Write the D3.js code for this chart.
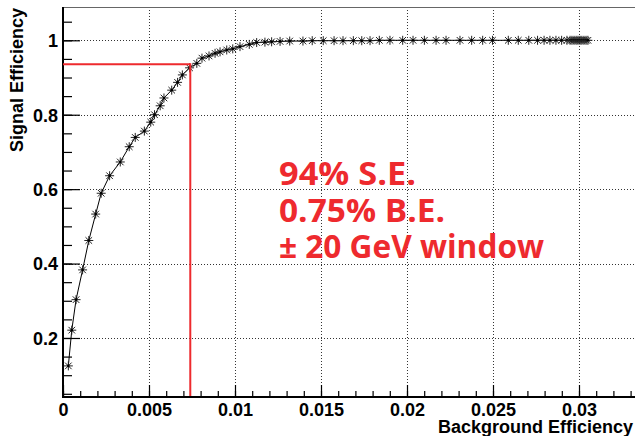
<!DOCTYPE html>
<html><head><meta charset="utf-8">
<script src="https://cdn.jsdelivr.net/npm/d3@7"></script>
<style>html,body{margin:0;padding:0;background:#fff;overflow:hidden}</style>
</head><body>
<svg id="c" width="635" height="436"></svg>
<script>
// Background efficiency (x) and signal efficiency (y) of the ROC points
const bgEff = [0.00031,0.00051,0.00076,0.00114,0.00150,0.00190,0.00222,0.00271,0.00333,0.00385,
  0.00420,0.00473,0.00510,0.00532,0.00565,0.00587,0.00632,0.00666,0.00694,0.00736,
  0.00778,0.00808,0.00849,0.00884,0.00913,0.00952,0.00987,0.01029,0.01083,0.01126,
  0.01174,0.01213,0.01262,0.01318,0.01395,0.01449,0.01513,0.01576,0.01628,0.01688,
  0.01737,0.01785,0.01839,0.01901,0.01975,0.02035,0.02101,0.02169,0.02227,0.02308,
  0.02376,0.02440,0.02497,0.02589,0.02647,0.02708,0.02759,0.02797,0.02831,0.02866,
  0.02899,0.02930,0.02948,0.02959,0.02971,0.02983,0.02994,0.03006,0.03017,0.03029,0.03041,0.03052];
const sigEff = [0.125,0.221,0.303,0.383,0.462,0.533,0.589,0.636,0.673,0.714,
  0.739,0.756,0.780,0.800,0.824,0.845,0.866,0.887,0.907,0.926,
  0.938,0.952,0.958,0.965,0.969,0.974,0.977,0.983,0.989,0.994,
  0.995,0.996,0.997,0.998,0.998,0.999,0.999,0.999,0.999,0.999,
  0.999,0.999,1.0,1.0,1.0,1.0,1.0,1.0,1.0,1.0,
  1.0,1.0,1.0,1.0,1.0,1.0,1.0,1.0,1.0,1.0,
  1.0,1.0,1.0,1.0,1.0,1.0,1.0,1.0,1.0,1.0,1.0,1.0];
const xMajorTicks = [0,0.005,0.01,0.015,0.02,0.025,0.03];
const xTickLabels = ["0","0.005","0.01","0.015","0.02","0.025","0.03"];
const yMajorTicks = [0.2,0.4,0.6,0.8,1.0];
const yTickLabels = ["0.2","0.4","0.6","0.8","1"];
const cutPoint = {bg:0.0074, sig:0.9355};
const annotation = ["94% S.E.","0.75% B.E.","\u00b1 20 GeV window"];
const xTitle = "Background Efficiency", yTitle = "Signal Efficiency";

const svg = d3.select("#c");
const L=63, R=636, T=7, B=397;
const x = d3.scaleLinear().domain([0,0.033314]).range([L,R]);
const y = d3.scaleLinear().domain([0.0414,1.0895]).range([B,T]);
const font = "'Liberation Sans', Arial, Helvetica, sans-serif";

// grid
const g = svg.append("g");
g.selectAll(".gx").data(xMajorTicks.filter(d=>d>0)).enter().append("line")
  .attr("x1",d=>x(d)+0.5).attr("x2",d=>x(d)+0.5).attr("y1",T).attr("y2",B)
  .attr("stroke","#333").attr("stroke-width",1).attr("stroke-dasharray","1,2");
g.selectAll(".gy").data(yMajorTicks).enter().append("line")
  .attr("y1",d=>Math.round(y(d))+0.5).attr("y2",d=>Math.round(y(d))+0.5).attr("x1",L).attr("x2",R)
  .attr("stroke","#333").attr("stroke-width",1).attr("stroke-dasharray","1,2");

// axes with inward ticks
const xMinor = d3.range(0,0.0331,0.001);
const xAx = svg.append("g").attr("transform",`translate(0,${B})`);
xAx.call(d3.axisBottom(x).tickValues(xMinor).tickSize(-6).tickFormat(""));
xAx.call(g2=>g2.selectAll(".tick line").attr("stroke","#000").attr("stroke-width",1.2));
xAx.select(".domain").remove();
const xAx2 = svg.append("g").attr("transform",`translate(0,${B})`);
xAx2.call(d3.axisBottom(x).tickValues(xMajorTicks).tickSize(-12).tickPadding(20).tickFormat((d,i)=>xTickLabels[i]));
xAx2.select(".domain").remove();
xAx2.selectAll(".tick line").attr("stroke","#000").attr("stroke-width",1.2);
xAx2.selectAll(".tick text").attr("font-family",font).attr("font-weight","bold").attr("font-size",18).attr("fill","#000")
  .attr("y",19).attr("dy","0");

const yMinor = d3.range(0.05,1.06,0.05);
const yAx = svg.append("g").attr("transform",`translate(${L},0)`);
yAx.call(d3.axisLeft(y).tickValues(yMinor).tickSize(-9).tickFormat(""));
yAx.select(".domain").remove();
yAx.selectAll(".tick line").attr("stroke","#000").attr("stroke-width",1.2);
const yAx2 = svg.append("g").attr("transform",`translate(${L},0)`);
yAx2.call(d3.axisLeft(y).tickValues(yMajorTicks).tickSize(-17).tickFormat((d,i)=>yTickLabels[i]));
yAx2.select(".domain").remove();
yAx2.selectAll(".tick line").attr("stroke","#000").attr("stroke-width",1.2);
yAx2.selectAll(".tick text").attr("font-family",font).attr("font-weight","bold").attr("font-size",18).attr("fill","#000")
  .attr("x",-5).attr("dy","0.35em");

// frame
svg.append("line").attr("x1",L).attr("x2",R).attr("y1",T+0.5).attr("y2",T+0.5).attr("stroke","#666").attr("stroke-width",1);
svg.append("line").attr("x1",L).attr("x2",L).attr("y1",T).attr("y2",B+1).attr("stroke","#000").attr("stroke-width",2);
svg.append("line").attr("x1",L-1).attr("x2",R).attr("y1",B).attr("y2",B).attr("stroke","#000").attr("stroke-width",2);

// titles
svg.append("text").attr("x",633).attr("y",433).attr("text-anchor","end")
  .attr("font-family",font).attr("font-weight","bold").attr("font-size",18).text(xTitle);
svg.append("text").attr("transform","translate(23,8) rotate(-90)").attr("text-anchor","end")
  .attr("font-family",font).attr("font-weight","bold").attr("font-size",18).text(yTitle);

// curve
const pts = bgEff.map((b,i)=>[b,sigEff[i]]);
svg.append("path").datum(pts)
  .attr("d",d3.line().x(d=>x(d[0])).y(d=>y(d[1])))
  .attr("fill","none").attr("stroke","#000").attr("stroke-width",1);
const s=4.5, s2=3.3;
const mk = svg.append("g").selectAll("g").data(pts).enter().append("g")
  .attr("transform",d=>`translate(${x(d[0])},${y(d[1])})`)
  .attr("stroke","#222").attr("stroke-width",1);
mk.append("line").attr("x1",0).attr("x2",0).attr("y1",-s).attr("y2",s);
mk.append("line").attr("x1",-s).attr("x2",s).attr("y1",0).attr("y2",0);
mk.append("line").attr("x1",-s2).attr("x2",s2).attr("y1",-s2).attr("y2",s2);
mk.append("line").attr("x1",-s2).attr("x2",s2).attr("y1",s2).attr("y2",-s2);
mk.append("circle").attr("r",1.3).attr("fill","#000").attr("stroke","none");

// red cut lines
const red = "#ee2a2e";
svg.append("line").attr("x1",L).attr("x2",x(cutPoint.bg)).attr("y1",y(cutPoint.sig)).attr("y2",y(cutPoint.sig))
  .attr("stroke",red).attr("stroke-width",2);
svg.append("line").attr("x1",x(cutPoint.bg)).attr("x2",x(cutPoint.bg)).attr("y1",y(cutPoint.sig)-1).attr("y2",B-1)
  .attr("stroke",red).attr("stroke-width",2);

// annotation
const annFont = "'Open Sans', 'DejaVu Sans', sans-serif";
const annW = [137,166,265];
const annY = [185,221.7,258.3];
annotation.forEach((t,i)=>{
  svg.append("text").attr("x",279).attr("y",annY[i]).attr("fill",red)
    .attr("font-family",annFont).attr("font-weight","bold").attr("font-size",32)
    .attr("textLength",annW[i]).attr("lengthAdjust","spacingAndGlyphs").text(t);
});
</script>
</body></html>
